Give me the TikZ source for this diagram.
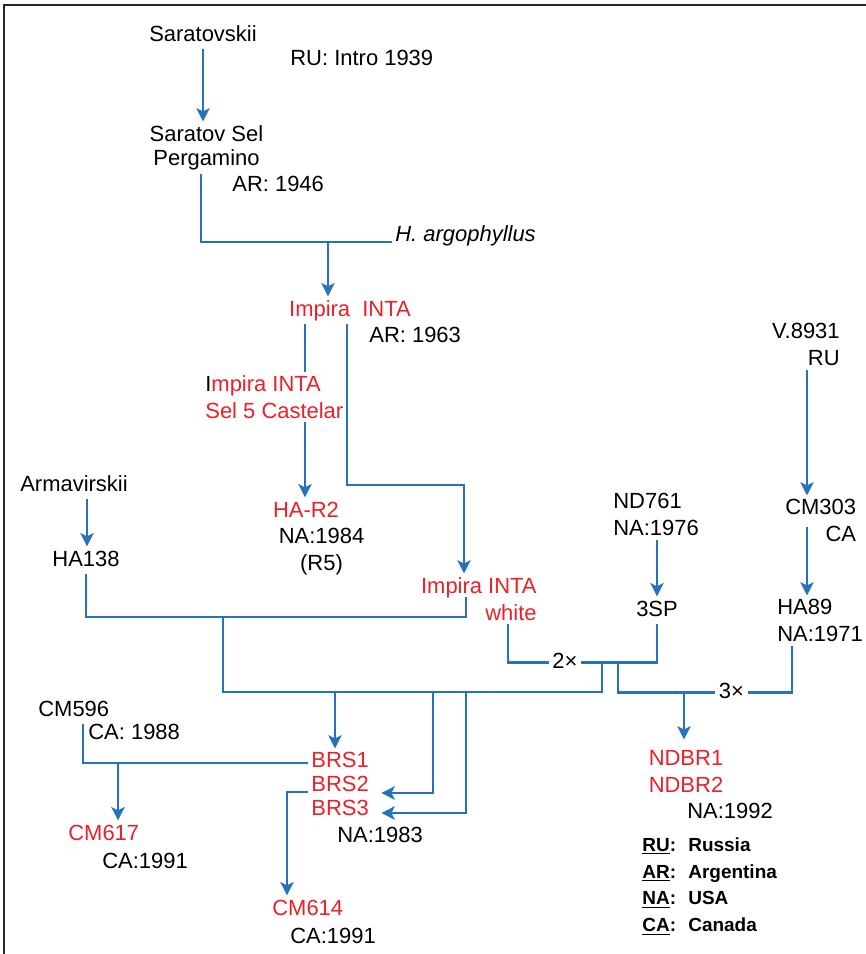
\documentclass[tikz,border=0pt]{standalone}
\usepackage{fontspec}
\setmainfont{Liberation Sans}
\usetikzlibrary{arrows.meta}
\definecolor{linkblue}{RGB}{38,114,191}
\definecolor{cvred}{RGB}{236,32,38}
\newcommand{\legkey}[1]{\makebox[0.92cm][l]{\underline{#1}:}}

\begin{document}
\begin{tikzpicture}[x=0.02cm,y=-0.02cm,
    lbl/.style={inner sep=2pt,text height=9pt,text depth=2.5pt,font=\fontsize{12.5}{15.3}\selectfont},
    multi/.style={inner sep=2pt,font=\fontsize{12.5}{15.3}\selectfont},
    tight/.style={font=\fontsize{12.5}{13.6}\selectfont},
    cv/.style={text=cvred},
    link/.style={draw=linkblue,line width=1.5pt},
    arr/.style={link,-{Stealth[length=7.5pt,width=7.5pt,inset=1.8pt]}}]
    \useasboundingbox (0,0) rectangle (866,954);
    \draw[line width=1.1pt,black!85] (4,954) -- (4,5) -- (866,5);

    \node (sar) at (203,41) [lbl,anchor=base] {Saratovskii};
    \node (ruintro) at (286.5,65) [lbl,anchor=base west] {RU: Intro 1939};
    \node (ssel) at (206.5,121.5) [multi,tight,align=center,anchor=north] {Saratov Sel\\Pergamino};
    \node (ar46) at (228.5,191) [lbl,anchor=base west] {AR: 1946};
    \node (harg) at (391.5,241) [lbl,anchor=base west] {\textit{H. argophyllus}};
    \node (impira) at (350,316) [lbl,cv,anchor=base] {Impira\ \ INTA};
    \node (ar63) at (365.5,342) [lbl,anchor=base west] {AR: 1963};
    \node (cast) at (201.5,371.5) [multi,cv,align=left,anchor=north west] {{\color{black}I}mpira INTA\\Sel 5 Castelar};
    \node (har2) at (306,517) [lbl,cv,anchor=base] {HA-R2};
    \node (na84) at (321.5,524.5) [multi,align=center,anchor=north] {NA:1984\\(R5)};
    \node (arm) at (74,491) [lbl,anchor=base] {Armavirskii};
    \node (ha138) at (86,566) [lbl,anchor=base] {HA138};
    \node (white) at (540.5,573.5) [multi,cv,align=right,anchor=north east] {Impira INTA\\white};
    \node (nd761) at (609.5,489.5) [multi,align=left,anchor=north west] {ND761\\NA:1976};
    \node (sp3) at (657,616) [lbl,anchor=base] {3SP};
    \node (v8931) at (843.5,319.5) [multi,align=right,anchor=north east] {V.8931\\RU};
    \node (cm303) at (860,495.5) [multi,align=right,anchor=north east] {CM303\\CA};
    \node (ha89) at (773.5,595.5) [multi,align=left,anchor=north west] {HA89\\NA:1971};
    \node (two) at (565,668) [lbl,anchor=base] {2×};
    \node (three) at (731.5,698) [lbl,anchor=base] {3×};
    \node (ndbr) at (686,746.5) [multi,cv,align=center,anchor=north] {NDBR1\\NDBR2};
    \node (na92) at (683.5,818) [lbl,anchor=base west] {NA:1992};
    \node (cm596) at (34.5,716) [lbl,anchor=base west] {CM596};
    \node (ca88) at (84.5,739) [lbl,anchor=base west] {CA: 1988};
    \node (brs) at (307.5,748.5) [multi,tight,cv,align=left,anchor=north west] {BRS1\\BRS2\\BRS3};
    \node (na83) at (333.5,842) [lbl,anchor=base west] {NA:1983};
    \node (cm617) at (64.5,840) [lbl,cv,anchor=base west] {CM617};
    \node (ca91a) at (98.5,868) [lbl,anchor=base west] {CA:1991};
    \node (cm614) at (268.5,915) [lbl,cv,anchor=base west] {CM614};
    \node (ca91b) at (286.5,943) [lbl,anchor=base west] {CA:1991};
    \node (legend) at (638.5,833.5) [inner sep=2pt,align=left,anchor=north west,font=\fontsize{10.8}{15.3}\selectfont\bfseries] {\legkey{RU}Russia\\\legkey{AR}Argentina\\\legkey{NA}USA\\\legkey{CA}Canada};

    \coordinate (xa) at (328,242);
    \coordinate (xb) at (223,617);
    \coordinate (xc) at (602,662);
    \coordinate (xd) at (618,662);
    \coordinate (xe) at (684,692);
    \coordinate (xf) at (118,763);
    \coordinate (cmsplit) at (807,527);

    \draw[arr] (sar.south) -- (sar.south |- ssel.north);
    \draw[link] (201,0 |- ssel.south) |- (harg.west |- xa);
    \draw[arr] (xa) -- (xa |- impira.north);
    \draw[link] (305,0 |- impira.south) -- (305,0 |- cast.north);
    \draw[arr] (347,0 |- impira.south) |- (464,485) -- (464,0 |- white.north);
    \draw[arr] (305,0 |- cast.south) -- (305,0 |- har2.north);
    \draw[arr] (87,0 |- arm.south) -- (87,0 |- ha138.north);
    \draw[arr] (807,0 |- v8931.south) -- (807,0 |- cm303.north);
    \draw[arr] (cmsplit) -- (cmsplit |- ha89.north);
    \draw[arr] (657,0 |- nd761.south) -- (sp3.north);
    \draw[link] (ha138.south) |- (466,617) -- (466,597);
    \draw[link] (xb) |- (xc |- 0,692) -- (xc);
    \draw[link] (508,0 |- white.south) |- (two.west);
    \draw[link] (two.east) -| (sp3.south);
    \draw[link] (xd) |- (three.west);
    \draw[link] (three.east) -| (792,0 |- ha89.south);
    \draw[arr,shorten >=4pt] (xe) -- (xe |- ndbr.north);
    \draw[arr] (335,692) -- (335,0 |- brs.north);
    \draw[arr,shorten >=5pt] (433,692) |- (brs.east |- 0,793);
    \draw[arr,shorten >=5pt] (466,692) |- (brs.east |- 0,813);
    \draw[link] (83,0 |- cm596.south) |- (brs.west |- 0,763);
    \draw[arr] (xf) -- (xf |- cm617.north);
    \draw[arr] (brs.west |- 0,792) -| (287,0 |- cm614.north);
\end{tikzpicture}
\end{document}
